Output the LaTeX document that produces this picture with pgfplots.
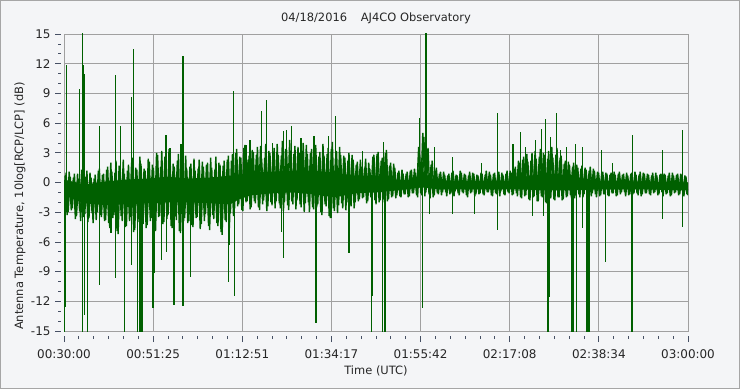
\documentclass[border=0pt]{standalone}
\usepackage{pgfplots}
\pgfplotsset{compat=1.18}
\usepackage{fontspec}
\setmainfont{DejaVu Sans}
\definecolor{bgc}{RGB}{244,245,247}
\definecolor{gridc}{RGB}{160,160,160}
\definecolor{sig}{RGB}{0,96,0}
\definecolor{tickc}{RGB}{70,80,100}
\begin{document}
\begin{tikzpicture}[x=1bp,y=1bp]
\fill[bgc] (0,0) rectangle (740,389);
\draw[gray!70,line width=1bp] (0.5,0.5) rectangle (739.5,388.5);
\useasboundingbox (0,0) rectangle (740,389);
\begin{axis}[
  at={(64bp,58bp)}, anchor=south west,
  width=624bp, height=297bp, scale only axis,
  xmin=30, xmax=180, ymin=-15, ymax=15,
  axis background/.style={fill=bgc},
  axis line style={gridc},
  xtick={30,51.428571,72.857143,94.285714,115.714286,137.142857,158.571429,180},
  xticklabels={00:30:00,00:51:25,01:12:51,01:34:17,01:55:42,02:17:08,02:38:34,03:00:00},
  ytick={-15,-12,-9,-6,-3,0,3,6,9,12,15},
  yticklabels={-15,-12,-9,-6,-3,0,3,6,9,12,15},
  minor x tick num=5, minor y tick num=2,
  xtick pos=bottom, ytick pos=left, tick align=outside,
  major tick length=6bp, minor tick length=3bp,
  xtick style={tickc, line width=0.8bp, yshift=-5bp},
  ytick style={tickc, line width=0.8bp, xshift=-3bp},
  grid=major, major grid style={gridc, line width=0.8bp},
  ticklabel style={font=\fontsize{12}{12}\selectfont, text=black!85},
  xticklabel style={yshift=-9bp},
  yticklabel style={xshift=-4bp},
  clip=true,
]
% dense core of the noise band
\addplot[fill=sig, draw=none] coordinates {
(30,0.3)(35,-0.2)(40,0.1)(45,0.3)(50,0.4)(55,0.6)(60,0.4)(65,0.5)(70,0.7)(75,1.0)(80,1.1)(85,1.2)(90,1.2)(95,1.0)(100,0.7)(105,0.7)(110,0.3)(114,0.2)(116,1.2)(118,0.5)(120,0.2)(130,0.2)(138,0.2)(142,0.7)(148,0.9)(152,0.6)(158,0.2)(170,0.1)(180,0.0)
(180,-0.8)(170,-0.7)(160,-0.7)(150,-0.8)(145,-0.8)(140,-0.7)(130,-0.7)(120,-0.7)(116,-0.5)(110,-0.8)(105,-1.0)(100,-1.1)(95,-1.5)(90,-1.2)(85,-1.0)(80,-1.1)(75,-1.3)(72,-1.7)(70,-2.2)(65,-2.1)(60,-2.0)(55,-2.0)(50,-2.1)(45,-2.2)(40,-2.3)(35,-2.1)(30,-1.3)
} --cycle;
% noise, series A: one value every 0.5 min from 00:30:00
\addplot[sig, line width=1.4bp, line join=bevel] table[header=false, row sep=\\, x expr=30+0.5*\coordindex, y index=0] {
-2.5\\1.0\\-3.0\\0.6\\-2.6\\0.9\\-3.4\\0.4\\-3.9\\0.7\\-3.2\\1.2\\-3.6\\0.5\\-4.1\\0.8\\-3.0\\1.4\\-3.5\\0.9\\
-3.8\\1.6\\-4.6\\1.1\\-3.3\\2.2\\-5.2\\1.4\\-3.9\\0.9\\-4.4\\1.8\\-3.5\\2.5\\-4.8\\1.3\\-3.7\\1.9\\-4.2\\1.2\\
-4.3\\2.1\\-3.6\\1.5\\-4.9\\2.8\\-3.4\\3.2\\-4.0\\1.7\\-3.3\\2.4\\-4.6\\1.6\\-3.8\\2.9\\-5.1\\2.0\\-3.6\\1.4\\
-3.9\\1.9\\-4.5\\1.2\\-3.5\\2.3\\-4.2\\1.6\\-3.2\\2.0\\-4.8\\1.5\\-3.7\\2.6\\-4.4\\1.8\\-5.3\\2.2\\-4.0\\2.7\\
-3.1\\2.9\\-2.6\\3.4\\-2.2\\2.5\\-2.9\\3.8\\-1.9\\2.7\\-2.5\\3.1\\-2.1\\3.6\\-2.8\\2.4\\-1.8\\3.9\\-2.4\\3.0\\
-2.3\\3.5\\-1.9\\2.8\\-2.6\\4.2\\-2.0\\3.3\\-2.8\\2.6\\-2.2\\3.7\\-1.8\\3.0\\-2.5\\4.0\\-2.1\\2.9\\-3.0\\3.4\\
-2.7\\3.8\\-2.2\\3.1\\-3.3\\2.7\\-2.4\\3.5\\-3.6\\4.1\\-2.9\\3.2\\-2.3\\2.8\\-2.6\\2.5\\-2.0\\3.0\\-2.4\\2.3\\
-2.0\\2.1\\-1.7\\1.6\\-1.5\\2.4\\-1.9\\1.4\\-1.6\\2.8\\-2.2\\3.1\\-1.8\\2.5\\-2.0\\3.3\\-1.7\\2.0\\-1.4\\1.5\\
-1.3\\1.2\\-1.5\\0.9\\-1.2\\1.1\\-1.4\\1.3\\-1.1\\1.0\\-1.5\\2.8\\-1.3\\4.6\\-1.0\\3.5\\-1.6\\2.2\\-1.3\\1.5\\
-1.2\\1.1\\-1.0\\0.8\\-1.4\\0.9\\-1.1\\1.2\\-0.9\\0.7\\-1.3\\1.0\\-1.1\\0.8\\-1.5\\1.1\\-1.0\\0.9\\-1.2\\0.7\\
-1.1\\0.9\\-1.3\\1.2\\-1.0\\0.8\\-1.4\\1.0\\-1.2\\1.1\\-0.9\\0.8\\-1.3\\1.2\\-1.1\\1.0\\-1.2\\1.6\\-1.4\\2.0\\
-1.6\\2.6\\-1.3\\2.1\\-1.8\\3.0\\-1.4\\2.4\\-1.9\\3.4\\-1.5\\2.8\\-2.1\\3.2\\-1.6\\2.5\\-1.8\\3.5\\-1.5\\2.7\\
-1.7\\2.2\\-1.4\\1.8\\-1.6\\2.0\\-1.3\\1.5\\-1.5\\1.7\\-1.2\\1.3\\-1.4\\1.6\\-1.1\\1.2\\-1.5\\1.0\\-1.3\\1.1\\
-1.2\\0.9\\-1.4\\1.0\\-1.1\\0.8\\-1.3\\1.1\\-1.0\\0.9\\-1.4\\0.7\\-1.2\\1.0\\-1.1\\0.8\\-1.3\\1.1\\-1.2\\0.9\\
-1.1\\0.8\\-1.3\\1.0\\-1.0\\0.7\\-1.2\\0.9\\-1.4\\0.8\\-1.1\\1.0\\-1.3\\0.7\\-1.0\\0.9\\-1.2\\0.8\\-1.4\\0.6\\-1.3\\
};
% noise, series B: one value every 0.5 min from 00:30:15
\addplot[sig, line width=1.4bp, line join=bevel] table[header=false, row sep=\\, x expr=30.25+0.5*\coordindex, y index=0] {
0.7\\-3.3\\1.1\\-2.8\\0.5\\-3.7\\0.9\\-2.9\\1.3\\-3.5\\0.6\\-4.0\\1.0\\-3.1\\0.4\\-3.8\\1.2\\-3.3\\0.8\\-3.9\\
1.3\\-4.1\\2.0\\-3.6\\1.0\\-4.9\\1.7\\-3.4\\2.3\\-4.5\\1.2\\-3.9\\2.0\\-5.0\\1.5\\-4.0\\2.6\\-3.6\\1.4\\-4.6\\
2.4\\-3.9\\1.8\\-4.7\\3.0\\-3.5\\1.6\\-4.2\\2.6\\-3.7\\3.4\\-4.4\\1.9\\-3.4\\2.2\\-4.9\\1.5\\-3.9\\2.7\\-4.1\\
1.6\\-4.3\\2.4\\-3.6\\1.4\\-4.7\\2.1\\-3.9\\1.8\\-4.4\\2.5\\-3.3\\1.3\\-4.1\\2.0\\-5.0\\1.7\\-3.8\\2.3\\-4.6\\
2.2\\-3.4\\3.0\\-2.4\\2.6\\-2.8\\3.5\\-2.0\\2.3\\-2.7\\3.3\\-1.9\\2.8\\-2.5\\3.7\\-2.2\\2.5\\-2.9\\3.2\\-2.0\\
3.1\\-2.6\\3.9\\-2.1\\2.7\\-2.9\\3.4\\-2.3\\4.3\\-1.9\\2.9\\-2.7\\3.6\\-2.2\\2.6\\-3.0\\3.8\\-2.0\\3.0\\-2.5\\
3.3\\-2.5\\2.6\\-3.0\\3.9\\-2.2\\2.9\\-3.4\\3.4\\-2.6\\2.4\\-3.1\\3.6\\-2.1\\2.7\\-2.8\\2.2\\-2.3\\2.8\\-2.6\\
1.8\\-1.9\\2.3\\-1.6\\1.5\\-2.1\\2.0\\-1.5\\2.6\\-1.8\\2.9\\-2.0\\2.2\\-1.7\\3.0\\-1.9\\1.7\\-1.5\\1.9\\-1.6\\
1.0\\-1.4\\1.3\\-1.2\\0.9\\-1.5\\1.2\\-1.1\\1.4\\-1.3\\3.6\\-1.1\\5.0\\-1.4\\2.9\\-1.2\\1.8\\-1.5\\1.2\\-1.1\\
0.9\\-1.3\\1.1\\-1.0\\0.7\\-1.2\\1.0\\-1.4\\0.8\\-1.1\\1.2\\-1.0\\0.9\\-1.3\\0.7\\-1.1\\1.0\\-1.4\\0.8\\-1.2\\
1.0\\-1.2\\0.8\\-1.0\\1.1\\-1.3\\0.9\\-1.1\\0.7\\-1.4\\1.0\\-1.2\\0.9\\-1.0\\1.2\\-1.3\\1.4\\-1.1\\2.2\\-1.5\\
2.3\\-1.4\\2.9\\-1.7\\2.2\\-1.5\\3.2\\-1.9\\2.6\\-1.4\\3.0\\-2.0\\2.4\\-1.6\\3.6\\-1.7\\2.8\\-1.5\\2.5\\-1.8\\
1.9\\-1.5\\2.1\\-1.3\\1.6\\-1.6\\1.8\\-1.2\\1.4\\-1.5\\1.5\\-1.3\\1.2\\-1.4\\1.4\\-1.2\\1.1\\-1.4\\0.9\\-1.2\\
1.0\\-1.3\\0.8\\-1.1\\1.1\\-1.4\\0.9\\-1.2\\0.8\\-1.0\\1.0\\-1.3\\0.9\\-1.2\\1.1\\-1.1\\0.8\\-1.4\\1.0\\-1.1\\
0.9\\-1.2\\0.7\\-1.1\\1.0\\-1.3\\0.8\\-1.0\\0.9\\-1.2\\0.7\\-1.4\\1.0\\-1.1\\0.8\\-1.3\\0.9\\-1.0\\0.7\\-1.2\\
};
% isolated spikes
\addplot[sig, line width=1.4bp, ycomb] coordinates {
(30.55,11.9)(33.68,9.4)(34.40,15.5)(34.69,11.9)(34.88,11.0)(38.49,5.7)(42.33,10.9)(43.53,5.7)(46.27,8.6)(46.66,13.5)
(54.52,4.8)(55.5,3.5)(58.1,3.9)(58.61,12.8)(70.70,9.2)(73.75,3.8)(74.7,4.3)(77.52,7.2)(78.63,8.3)(80.07,4.0)
(82.72,5.2)(83.44,5.3)(84.74,5.7)(86.97,4.5)(90.10,4.7)(93.63,4.7)(95.31,6.7)(101.71,3.2)(106.85,4.1)(115.41,6.5)
(117.02,15.5)(119.01,3.6)(123.34,2.6)(130.31,2.0)(134.16,7.0)(137.93,3.9)(139.69,5.1)(140.99,3.6)(143.29,4.3)(144.74,5.4)
(145.70,6.4)(147.00,4.6)(148.44,7.0)(149.40,3.3)(150.75,3.6)(153.00,3.9)(154.59,3.6)(159.16,3.3)(161.80,2.0)(166.71,4.8)
(173.82,3.3)(178.63,5.3)
(30.12,-15.5)(30.36,-12.6)(34.40,-15.5)(34.88,-13.4)(35.60,-15.5)(38.49,-10.4)(41.30,-5.1)(42.33,-9.6)(44.50,-15.5)(46.27,-8.3)
(47.72,-15.5)(48.10,-15.5)(48.34,-15.5)(48.58,-15.5)(48.82,-15.5)(51.39,-12.7)(51.63,-9.1)(53.39,-7.8)(54.59,-7.0)(56.44,-12.4)
(58.61,-12.5)(60.36,-9.5)(69.50,-10.0)(69.74,-6.3)(70.94,-11.5)(82.24,-5.0)(82.72,-7.6)(90.58,-14.2)(90.75,-11.2)(94.35,-3.6)
(98.51,-7.1)(103.92,-15.5)(104.16,-11.5)(106.61,-15.5)(107.16,-15.5)(116.23,-12.7)(117.81,-3.2)(123.34,-3.2)(128.63,-3.2)(134.16,-4.8)
(142.57,-3.4)(145.22,-3.4)(146.35,-15.5)(146.59,-11.6)(152.12,-15.5)(152.52,-15.5)(153.25,-15.5)(154.59,-4.6)(155.72,-15.5)(155.96,-11.2)
(156.20,-15.5)(160.12,-8.0)(166.54,-15.5)(173.82,-3.7)(178.63,-4.5)
};
\end{axis}
\node[font=\fontsize{11.5}{12}\selectfont, text=black!85] at (376,371) {04/18/2016\hspace{1.2em}AJ4CO Observatory};
\node[font=\fontsize{11.5}{12}\selectfont, text=black!85] at (376,18) {Time (UTC)};
\node[font=\fontsize{11.5}{12}\selectfont, text=black!85, rotate=90] at (20,183) {Antenna Temperature, 10log[RCP/LCP] (dB)};
\end{tikzpicture}
\end{document}
